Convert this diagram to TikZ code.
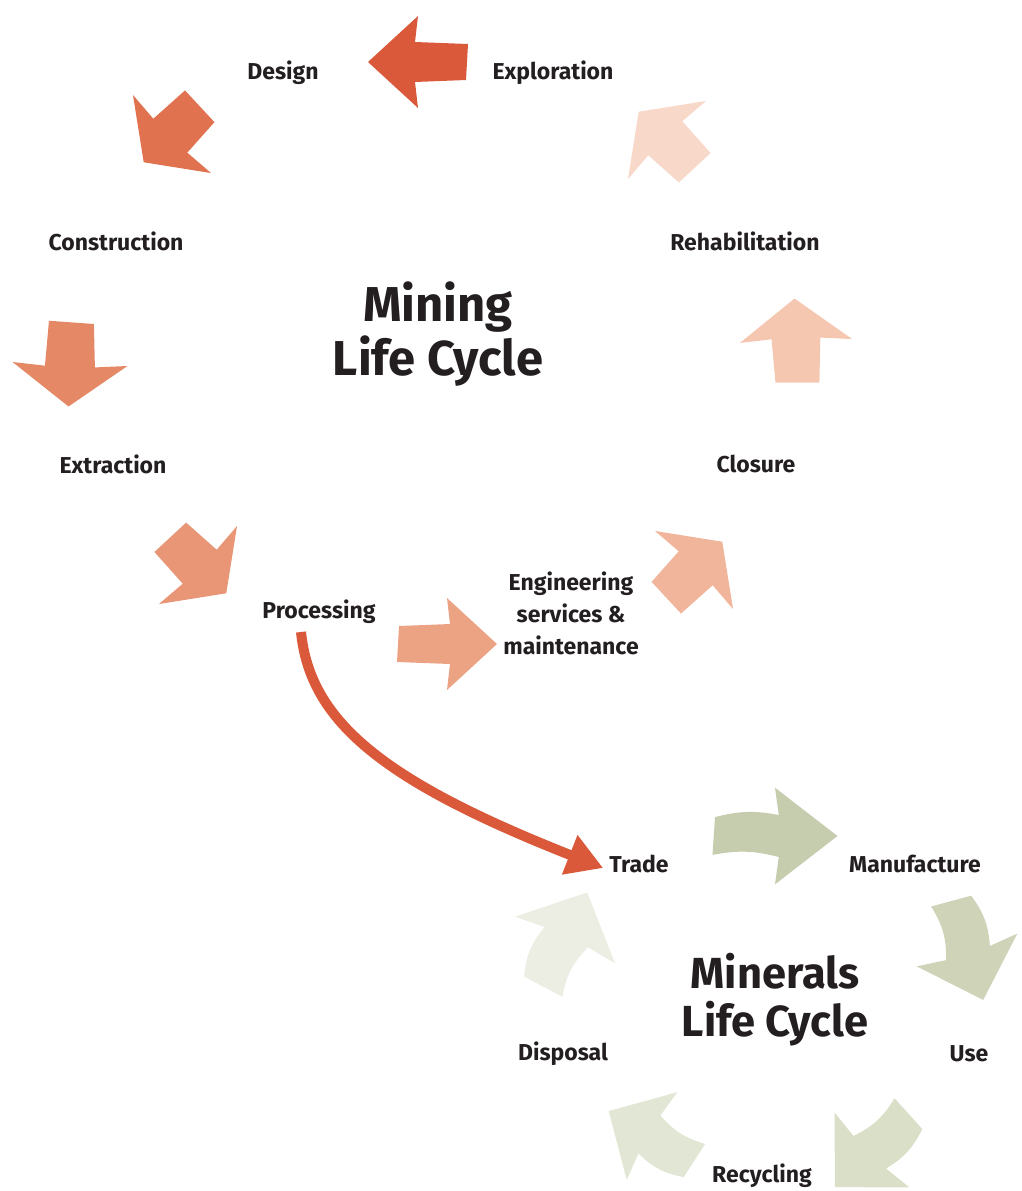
\documentclass[tikz,border=0pt]{standalone}
\usepackage{fontspec}
\setmainfont{Fira Sans}
\usetikzlibrary{arrows.meta}

\definecolor{inkdark}{HTML}{231F20}
\definecolor{mineA}{HTML}{D9593A}
\definecolor{mineB}{HTML}{E07250}
\definecolor{mineC}{HTML}{E48865}
\definecolor{mineD}{HTML}{E89676}
\definecolor{mineE}{HTML}{ECA384}
\definecolor{mineF}{HTML}{F0B59B}
\definecolor{mineG}{HTML}{F5C7B0}
\definecolor{mineH}{HTML}{F7D8C9}
\definecolor{minrA}{HTML}{C6CCAE}
\definecolor{minrB}{HTML}{CFD4B9}
\definecolor{minrC}{HTML}{DADFC8}
\definecolor{minrD}{HTML}{E2E6D5}
\definecolor{minrE}{HTML}{ECEDE3}

\tikzset{
  stage/.style={font=\bfseries\fontsize{23}{32}\selectfont, text=inkdark, align=center, inner sep=0pt},
  cycletitle/.style={font=\bfseries\fontsize{49}{54}\selectfont, text=inkdark, align=center, inner sep=0pt},
  pics/cyclearrow/.style={code={
    \fill[pic actions] (-48,-18) to[bend left=#1] (3,-20) -- (0,-46) -- (50,0)
      -- (0,46) -- (3,20) to[bend right=#1] (-50,18) -- cycle;
  }},
  pics/cyclearrow/.default=0,
  tradearrow/.style={line width=10pt, mineA, -{Triangle[length=36pt,width=40pt]}}
}

\begin{document}
\begin{tikzpicture}[x=1pt, y=-1pt]
    \useasboundingbox (0,0) rectangle (1021,1191);

    % Mining stages
    \node[stage] (design) at (283,73) {Design};
    \node[stage] (exploration) at (553,73) {Exploration};
    \node[stage] (construction) at (116,241) {Construction};
    \node[stage] (rehab) at (745,241) {Rehabilitation};
    \node[stage] (extraction) at (113,464) {Extraction};
    \node[stage] (closure) at (756,464) {Closure};
    \node[stage] (processing) at (319,612) {Processing};
    \node[stage] (engineering) at (571,613) {Engineering\\services \&\\maintenance};
    \node[cycletitle] (mining) at (438,334) {Mining\\Life Cycle};

    % Minerals stages
    \node[stage] (trade) at (639,864) {Trade};
    \node[stage] (manufacture) at (915,864) {Manufacture};
    \node[stage] (use) at (969,1054) {Use};
    \node[stage] (recycling) at (762,1176) {Recycling};
    \node[stage] (disposal) at (563,1054) {Disposal};
    \node[cycletitle, font=\bfseries\fontsize{43.5}{48}\selectfont] (minerals) at (775,1000) {Minerals\\Life Cycle};

    % Mining cycle arrows
    \pic[fill=mineA, rotate=180] at (418,62) {cyclearrow};
    \pic[fill=mineB, rotate=225, xscale=0.8, yscale=1.2] at (172,134) {cyclearrow};
    \pic[fill=mineC, rotate=268, xscale=0.85, yscale=1.25] at (70,364) {cyclearrow};
    \pic[fill=mineD, rotate=315, xscale=0.8, yscale=1.2] at (198,565) {cyclearrow};
    \pic[fill=mineE, rotate=0] at (447,644) {cyclearrow};
    \pic[fill=mineF, rotate=45, xscale=0.8, yscale=1.2] at (694,570) {cyclearrow};
    \pic[fill=mineG, rotate=92, xscale=0.85, yscale=1.22] at (796,341) {cyclearrow};
    \pic[fill=mineH, rotate=135, xscale=0.8, yscale=1.2] at (667,140) {cyclearrow};

    % Minerals cycle arrows
    \pic[fill=minrA, rotate=0, xscale=1.25, yscale=1.05] at (775,836) {cyclearrow=15};
    \pic[fill=minrB, rotate=-72, xscale=1.05, yscale=1.15] at (967,950) {cyclearrow=15};
    \pic[fill=minrC, rotate=225, xscale=1.05, yscale=1.15] at (872,1150) {cyclearrow=15};
    \pic[fill=minrD, rotate=150, xscale=1.0, yscale=1.1] at (652,1136) {cyclearrow=15};
    \pic[fill=minrE, rotate=65, xscale=1.05, yscale=1.2] at (565,940) {cyclearrow=15};

    % From processing into trade
    \coordinate (procout) at (301,632);
    \draw[tradearrow] (procout) .. controls (310,720) and (380,780) .. ([xshift=-6pt,yshift=-4pt]trade.west);
\end{tikzpicture}
\end{document}
